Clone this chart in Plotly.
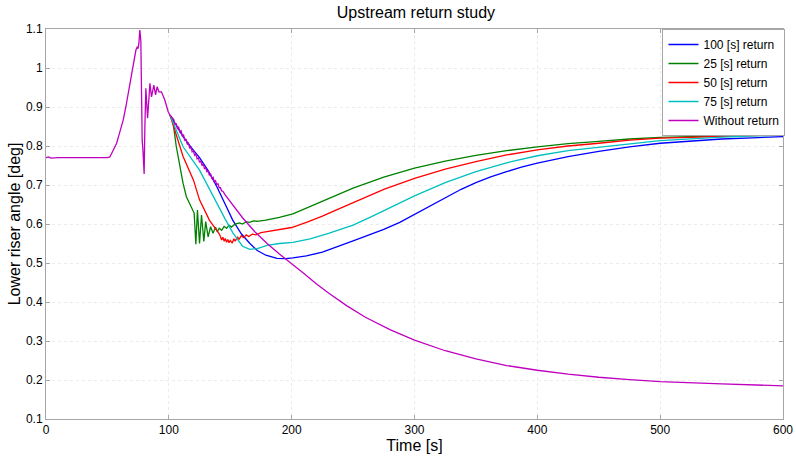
import plotly.graph_objects as go

# ---------------- data ----------------
t_without = [0, 2, 4, 10, 30, 50, 52, 55, 57.5, 60, 62.9, 65, 66.9, 69, 71, 73.2, 74.2, 75, 75.6, 76.4,
             77.2, 77.6, 78.3, 78.9, 79.9, 80.5, 81.3, 82.7, 84.6, 85.9, 87.8, 89.2, 90.5, 91.9, 94.0,
             96.7, 99.5, 101, 102.5,
             104, 105, 106, 107, 108, 109, 110, 111, 112, 113, 114, 115, 116, 117, 118, 119, 120, 121,
             122, 123, 124, 125, 126, 127, 128, 129, 130, 131, 132, 133, 134, 135, 136, 137, 138, 139,
             140, 141, 142, 143, 144, 146,
             150, 160, 170, 180, 190, 200, 210, 220, 230, 245, 260, 280, 300, 325, 350, 375, 400, 425,
             450, 475, 500, 550, 600]
y_without = [0.770, 0.772, 0.769, 0.770, 0.770, 0.770, 0.772, 0.790, 0.807, 0.835, 0.867, 0.900, 0.935,
             0.975, 1.012, 1.046, 1.053, 1.050, 1.063, 1.097,
             1.070, 0.950, 0.815, 0.790, 0.728, 0.850, 0.948, 0.871, 0.961, 0.926, 0.956, 0.931, 0.952,
             0.939, 0.939, 0.918, 0.888, 0.879, 0.872,
             0.868, 0.855, 0.858, 0.845, 0.848, 0.836, 0.839, 0.826, 0.828, 0.815, 0.818, 0.804, 0.807,
             0.794, 0.797, 0.785, 0.788, 0.776, 0.779, 0.767, 0.770, 0.758, 0.762, 0.750, 0.754, 0.742,
             0.745, 0.733, 0.737, 0.725, 0.729, 0.717, 0.720, 0.708, 0.711, 0.701, 0.703, 0.693, 0.693,
             0.685, 0.684, 0.674,
             0.657, 0.616, 0.580, 0.550, 0.523, 0.499, 0.473, 0.447, 0.423, 0.390, 0.361, 0.329, 0.302,
             0.275, 0.254, 0.237, 0.225, 0.215, 0.207, 0.201, 0.196, 0.190, 0.185]

t_100 = [101, 105, 111.6, 118, 125, 132, 139, 146, 152, 159, 166, 172, 179, 188, 195, 201, 212, 225,
         237, 250, 262, 275, 288, 300, 313, 326, 338, 350, 362, 375, 387, 400, 425, 450, 475, 500, 525,
         550, 575, 600]
y_100 = [0.879, 0.858, 0.824, 0.797, 0.770, 0.737, 0.696, 0.650, 0.610, 0.575, 0.550, 0.532, 0.520,
         0.512, 0.511, 0.513, 0.518, 0.528, 0.541, 0.557, 0.571, 0.586, 0.604, 0.624, 0.647, 0.669,
         0.689, 0.706, 0.721, 0.734, 0.746, 0.756, 0.773, 0.786, 0.798, 0.807, 0.813, 0.818, 0.821,
         0.824]

t_25 = [101, 103.5, 106, 109, 111.6, 114.3, 116.5, 118.4, 120.6, 122, 123.3, 125, 126.6, 128.5, 130,
        132, 134, 136, 138, 139.5, 141, 143, 145, 147, 149, 151, 154, 157.5, 160, 163, 165.6, 169, 172,
        179, 190, 201, 215, 230, 250, 275, 300, 325, 350, 375, 400, 425, 450, 475, 500, 550, 600]
y_25 = [0.879, 0.859, 0.800, 0.745, 0.704, 0.670, 0.655, 0.644, 0.628, 0.548, 0.636, 0.550, 0.623,
        0.555, 0.606, 0.567, 0.593, 0.576, 0.592, 0.580, 0.589, 0.584, 0.594, 0.589, 0.597, 0.592,
        0.600, 0.603, 0.600, 0.606, 0.604, 0.608, 0.607, 0.610, 0.617, 0.626, 0.644, 0.665, 0.692,
        0.720, 0.743, 0.761, 0.776, 0.788, 0.798, 0.806, 0.812, 0.818, 0.822, 0.826, 0.830]

t_50 = [101, 106, 111.6, 120, 125, 133, 139, 141, 142, 143, 144, 145, 146, 147, 148, 149, 150, 151.6,
        153, 154, 156, 157, 159, 161, 163, 165, 168, 171, 175, 184, 200, 212, 225, 237, 250, 275, 300,
        325, 350, 375, 400, 425, 450, 475, 500, 550, 600]
y_50 = [0.879, 0.830, 0.773, 0.713, 0.662, 0.610, 0.585, 0.575, 0.568, 0.559, 0.566, 0.556, 0.563,
        0.553, 0.560, 0.552, 0.558, 0.551, 0.562, 0.556, 0.567, 0.560, 0.570, 0.565, 0.572, 0.568,
        0.574, 0.572, 0.578, 0.582, 0.591, 0.604, 0.620, 0.637, 0.655, 0.689, 0.717, 0.741, 0.760,
        0.777, 0.790, 0.800, 0.807, 0.815, 0.820, 0.825, 0.829]

t_75 = [101, 111.6, 125, 132, 139, 146, 152, 157, 160, 166, 172, 180, 190, 201, 215, 230, 250, 265,
        280, 300, 325, 350, 375, 400, 425, 450, 475, 500, 550, 600]
y_75 = [0.879, 0.798, 0.738, 0.695, 0.653, 0.612, 0.578, 0.555, 0.543, 0.535, 0.537, 0.545, 0.550,
        0.553, 0.562, 0.576, 0.597, 0.619, 0.642, 0.672, 0.706, 0.734, 0.757, 0.775, 0.788, 0.797,
        0.806, 0.814, 0.823, 0.828]

series = [
    ("100 [s] return", t_100, y_100, "#0000FF"),
    ("25 [s] return", t_25, y_25, "#008000"),
    ("50 [s] return", t_50, y_50, "#FF0000"),
    ("75 [s] return", t_75, y_75, "#00BFBF"),
    ("Without return", t_without, y_without, "#BF00BF"),
]

x_ticks = [0, 100, 200, 300, 400, 500, 600]
y_ticks = [0.1, 0.2, 0.3, 0.4, 0.5, 0.6, 0.7, 0.8, 0.9, 1.0, 1.1]
y_tick_text = ["0.1", "0.2", "0.3", "0.4", "0.5", "0.6", "0.7", "0.8", "0.9", "1", "1.1"]

# ---------------- figure ----------------
fig = go.Figure()
for name, tx, ty, col in series:
    fig.add_trace(go.Scatter(x=tx, y=ty, mode="lines", name=name,
                             line=dict(color=col, width=1.3)))

font_family = "Liberation Sans, Arial, sans-serif"
axis_common = dict(
    showline=True, linecolor="#a6a6a6", linewidth=1, mirror="allticks",
    ticks="inside", ticklen=4, tickcolor="#a6a6a6",
    showgrid=True, gridcolor="#ebebeb", griddash="dot", gridwidth=1,
    zeroline=False, automargin=False,
    tickfont=dict(size=12, color="#000000", family=font_family),
)

fig.update_layout(
    width=796, height=459,
    margin=dict(l=46, r=12, t=29, b=40),
    paper_bgcolor="white", plot_bgcolor="white",
    font=dict(family=font_family, color="#000000"),
    title=dict(text="Upstream return study", x=0.5225, xanchor="center", y=0.972, yanchor="middle",
               font=dict(size=16, color="#000000")),
    xaxis=dict(range=[0, 600], tickvals=x_ticks,
               title=dict(text="Time [s]", font=dict(size=16), standoff=0), **axis_common),
    yaxis=dict(range=[0.1, 1.1], tickvals=y_ticks, ticktext=y_tick_text,
               title=dict(text="Lower riser angle [deg]", font=dict(size=16), standoff=1), **axis_common),
    legend=dict(x=1.002, xanchor="right", y=1, yanchor="top", bgcolor="white",
                bordercolor="#a6a6a6", borderwidth=1, font=dict(size=12),
                tracegroupgap=0, itemwidth=30),
    showlegend=True,
)

fig.write_html("out.html")
